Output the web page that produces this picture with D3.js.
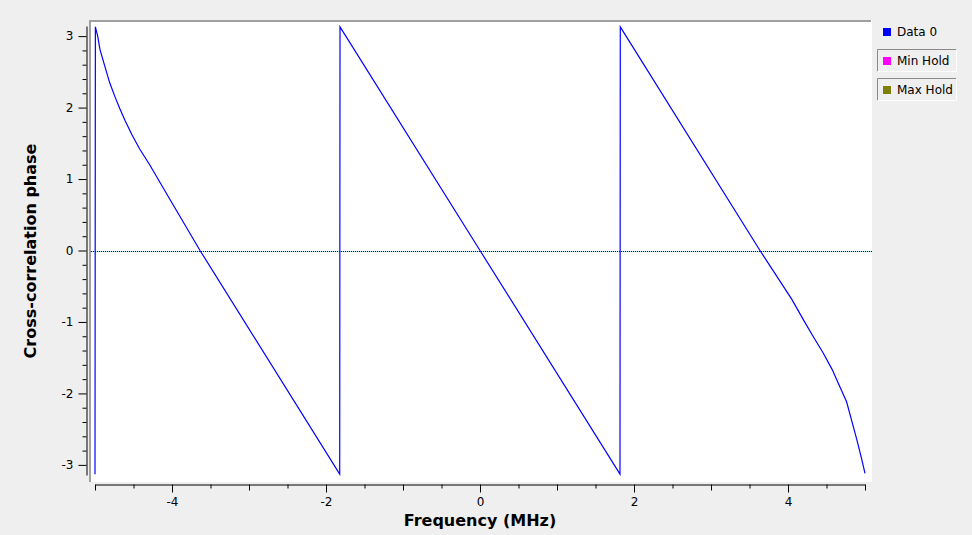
<!DOCTYPE html>
<html><head><meta charset="utf-8">
<script src="https://cdn.jsdelivr.net/npm/d3@7/dist/d3.min.js"></script>
<style>
html,body{margin:0;padding:0;background:#efefef;}
svg{display:block;font-family:"DejaVu Sans",sans-serif;}
</style></head>
<body>
<svg id="chart" width="972" height="535"></svg>
<script>
// Data
const freq  = [-5.0, -4.995, -4.965, -4.935, -4.87, -4.81, -4.74, -4.68, -4.61, -4.52, -4.42, -4.29, -4.03, -3.636,
               -1.822, -1.818, 0.0, 1.818, 1.822, 3.636,
               4.048, 4.195, 4.325, 4.455, 4.571, 4.675, 4.762, 4.827, 4.892, 4.957, 5.0];
const phase = [-3.13, 3.13, 3.0, 2.81, 2.57, 2.35, 2.15, 1.99, 1.82, 1.62, 1.42, 1.20, 0.72, 0.0,
               -3.13, 3.13, 0.0, -3.13, 3.13, 0.0,
               -0.68, -0.96, -1.20, -1.43, -1.66, -1.91, -2.12, -2.38, -2.64, -2.92, -3.12];
const xMajor = [-4, -2, 0, 2, 4];
const xMedium = [-5, -3, -1, 1, 3, 5];
const xMinor = [-4.5, -3.5, -2.5, -1.5, -0.5, 0.5, 1.5, 2.5, 3.5, 4.5];
const yMajor = [-3, -2, -1, 0, 1, 2, 3];
const yMinor = [-2.8, -2.6, -2.4, -2.2, -1.8, -1.6, -1.4, -1.2, -0.8, -0.6, -0.4, -0.2,
                0.2, 0.4, 0.6, 0.8, 1.2, 1.4, 1.6, 1.8, 2.2, 2.4, 2.6, 2.8];
const legendItems = [
  {name: "Data 0", color: "#0000ff", boxed: false},
  {name: "Min Hold", color: "#ff00ff", boxed: true},
  {name: "Max Hold", color: "#808000", boxed: true}
];
const xTitle = "Frequency (MHz)";
const yTitle = "Cross-correlation phase";

const svg = d3.select("#chart");
const x = d3.scaleLinear().domain([-5, 5]).range([95, 865]);
const y = d3.scaleLinear().domain([-Math.PI, Math.PI]).range([475, 26]);

// canvas
const cv = {x0: 89, y0: 20, x1: 872, y1: 482};
svg.append("rect").attr("x", cv.x0).attr("y", cv.y0).attr("width", cv.x1 - cv.x0).attr("height", cv.y1 - cv.y0).attr("fill", "#ffffff");
svg.append("path").attr("d", `M${cv.x0+1},${cv.y1} V${cv.y0+1} H${cv.x1-1}`).attr("fill", "none").attr("stroke", "#a0a0a0").attr("stroke-width", 2);

svg.append("clipPath").attr("id", "clip").append("rect")
  .attr("x", cv.x0 + 2).attr("y", cv.y0 + 2).attr("width", cv.x1 - cv.x0 - 2).attr("height", cv.y1 - cv.y0 - 2);

// zero line (dotted)
const zy = Math.round(y(0)) + 0.5;
svg.append("line").attr("x1", cv.x0 + 2).attr("x2", cv.x1).attr("y1", zy).attr("y2", zy)
  .attr("stroke", "#9be8ef").attr("stroke-width", 1);
svg.append("line").attr("x1", cv.x0 + 2).attr("x2", cv.x1).attr("y1", zy).attr("y2", zy)
  .attr("stroke", "#000000").attr("stroke-width", 1).attr("stroke-dasharray", "1,1");

// data line
const pts = freq.map((f, i) => [f, phase[i]]);
svg.append("path").datum(pts).attr("clip-path", "url(#clip)")
  .attr("d", d3.line().x(d => x(d[0])).y(d => y(d[1])))
  .attr("fill", "none").attr("stroke", "#0000ff").attr("stroke-width", 1.2);

// Y axis
const yAxisX = 86.5;
const gy = svg.append("g").attr("transform", `translate(${yAxisX},0)`);
gy.call(d3.axisLeft(y).tickValues(yMajor).tickSize(8).tickSizeOuter(0).tickPadding(5).tickFormat(d => String(d)));
gy.selectAll("text").attr("font-size", 12).attr("fill", "#000").attr("font-family", "DejaVu Sans");
gy.append("g").call(d3.axisLeft(y).tickValues(yMinor).tickSize(4).tickSizeOuter(0).tickFormat(() => ""))
  .select(".domain").remove();
gy.selectAll("line,path").attr("stroke", "#000");

// X axis
const xAxisY = 484.5;
const gx = svg.append("g").attr("transform", `translate(0,${xAxisY})`);
gx.call(d3.axisBottom(x).tickValues(xMajor).tickSize(8).tickSizeOuter(0).tickPadding(5).tickFormat(d => String(d)));
gx.selectAll("text").attr("font-size", 12).attr("fill", "#000").attr("font-family", "DejaVu Sans");
gx.append("g").call(d3.axisBottom(x).tickValues(xMedium).tickSize(6).tickSizeOuter(0).tickFormat(() => "")).select(".domain").remove();
gx.append("g").call(d3.axisBottom(x).tickValues(xMinor).tickSize(4).tickSizeOuter(0).tickFormat(() => "")).select(".domain").remove();
gx.selectAll("line,path").attr("stroke", "#000");

// titles
svg.append("text").attr("x", 480).attr("y", 526).attr("text-anchor", "middle")
  .attr("font-size", 16).attr("font-weight", "bold").text(xTitle);
svg.append("text").attr("transform", "translate(36,251) rotate(-90)").attr("text-anchor", "middle")
  .attr("font-size", 16).attr("font-weight", "bold").text(yTitle);

// legend
const lg = svg.append("g");
legendItems.forEach((it, i) => {
  const top = 20 + i * 29;
  if (it.boxed) {
    lg.append("path").attr("d", `M877.5,${top+22.5} V${top+0.5} H956.5`).attr("fill", "none").attr("stroke", "#8a8a8a");
    lg.append("path").attr("d", `M877.5,${top+22.5} H956.5 V${top+0.5}`).attr("fill", "none").attr("stroke", "#ffffff");
  }
  lg.append("rect").attr("x", 883).attr("y", top + 8).attr("width", 8).attr("height", 8).attr("fill", it.color);
  lg.append("text").attr("x", 897).attr("y", top + 16).attr("font-size", 12).attr("fill", "#000").text(it.name);
});
</script>
</body></html>
